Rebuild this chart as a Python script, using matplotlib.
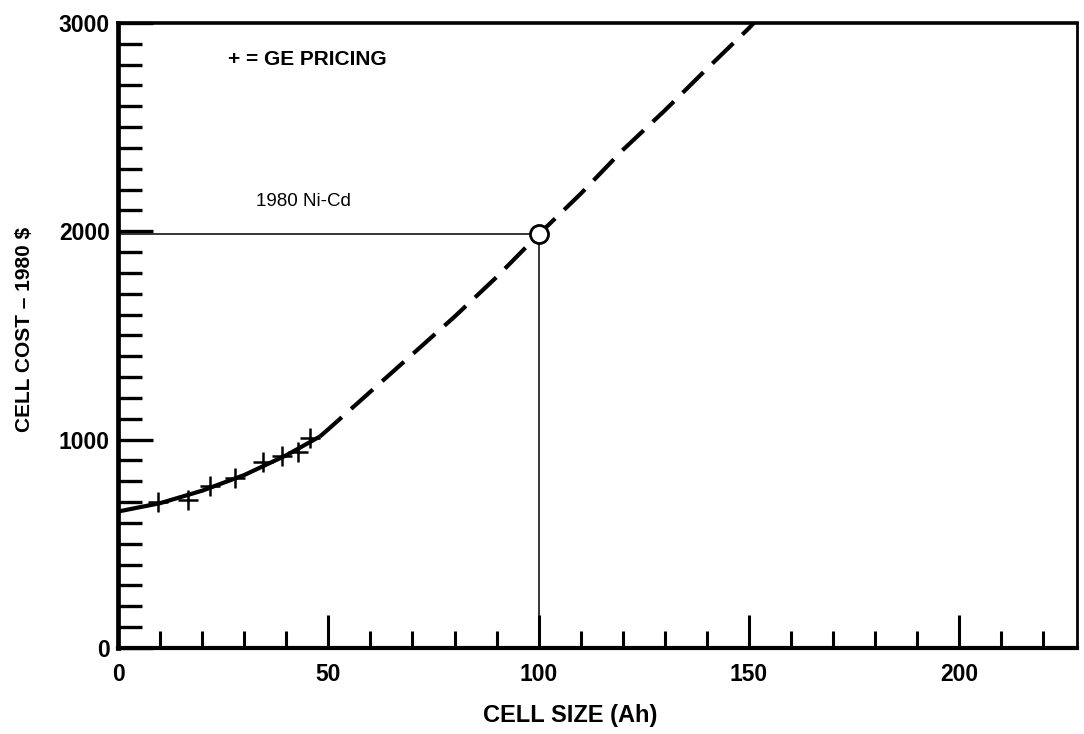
import numpy as np
import matplotlib.pyplot as plt
from matplotlib.ticker import MultipleLocator

plt.rcParams['font.family'] = ['Liberation Sans', 'DejaVu Sans']

# cost curve (cell size Ah, cost 1980 $)
curve_x = [0, 10, 20, 30, 40, 48, 50, 60, 70, 80, 90, 100, 110, 120, 130, 140, 150, 153]
curve_y = [655, 695, 755, 830, 925, 1015, 1050, 1230, 1410, 1590, 1780, 1985, 2180, 2390, 2580, 2780, 2975, 3040]
solid_upto = 48

# GE pricing points
ge_x = [9.5, 16.7, 21.9, 27.9, 34.5, 39.0, 42.9, 45.6]
ge_y = [700, 710, 778, 816, 893, 922, 941, 1008]

# 1980 Ni-Cd reference
nicd_x, nicd_y = 100, 1985

fig = plt.figure(figsize=(10.84, 7.34), dpi=100)
ax = fig.add_axes([0.1089, 0.1172, 0.8846, 0.8515])

cx = np.array(curve_x); cy = np.array(curve_y)
m = cx <= solid_upto
ax.plot(cx[m], cy[m], color='black', lw=3.0, solid_capstyle='butt')
ax.plot(cx[cx >= solid_upto], cy[cx >= solid_upto], color='black', lw=3.0,
        dashes=(7, 3), dash_capstyle='butt')

ax.plot(ge_x, ge_y, ls='none', marker='+', ms=15, mew=1.8, color='black')

ax.plot([0, nicd_x], [nicd_y, nicd_y], color='black', lw=1.1)
ax.plot([nicd_x, nicd_x], [0, nicd_y], color='black', lw=1.1)
ax.plot([nicd_x], [nicd_y], marker='o', ms=13, mfc='white', mec='black', mew=2, zorder=5)

ax.text(44, 2145, "1980 Ni-Cd", ha='center', va='center', fontsize=13.5)
ax.text(26.2, 2823, "+ = GE PRICING", ha='left', va='center', fontsize=15,
        fontweight='bold')

ax.set_xlim(0, 228)
ax.set_ylim(0, 3000)
ax.xaxis.set_major_locator(MultipleLocator(50))
ax.xaxis.set_minor_locator(MultipleLocator(10))
ax.yaxis.set_major_locator(MultipleLocator(1000))
ax.yaxis.set_minor_locator(MultipleLocator(100))

ax.tick_params(axis='x', which='major', direction='in', length=24, width=2.2,
               pad=11, labelsize=16.5)
ax.tick_params(axis='x', which='minor', direction='in', length=12, width=2.2)
ax.tick_params(axis='y', which='major', direction='in', length=25, width=2.4,
               pad=6, labelsize=16.5)
ax.tick_params(axis='y', which='minor', direction='in', length=17, width=2.4)
for lab in ax.get_xticklabels() + ax.get_yticklabels():
    lab.set_fontweight('bold')

ax.spines['left'].set_linewidth(3.4)
ax.spines['bottom'].set_linewidth(3.0)
ax.spines['top'].set_linewidth(2.6)
ax.spines['right'].set_linewidth(2.0)

ax.set_xlabel("CELL SIZE (Ah)", fontsize=17, fontweight='bold')
ax.xaxis.set_label_coords(0.471, -0.09)
ax.set_ylabel("CELL COST \u2013 1980 $", fontsize=15, fontweight='bold')
ax.yaxis.set_label_coords(-0.088, 0.51)

fig.savefig("out.png", dpi=100)
